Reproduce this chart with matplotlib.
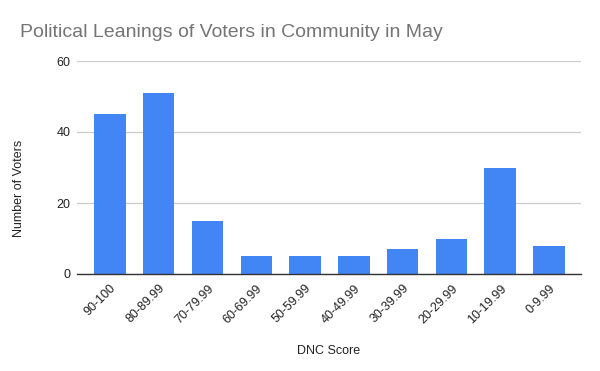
import matplotlib
matplotlib.use("Agg")
import matplotlib.pyplot as plt

plt.rcParams['font.family'] = ['Liberation Sans', 'DejaVu Sans']

categories = ['90-100', '80-89.99', '70-79.99', '60-69.99', '50-59.99',
              '40-49.99', '30-39.99', '20-29.99', '10-19.99', '0-9.99']
voters = [45, 51, 15, 5, 5, 5, 7, 10, 30, 8]
yticks = [0, 20, 40, 60]

fig = plt.figure(figsize=(6, 3.71), dpi=100)
# axes box in pixels: x 77..581, y 61..274
ax = fig.add_axes([77 / 600, 1 - 274 / 371, 504 / 600, 213 / 371])

ax.bar(range(len(categories)), voters, width=0.645, color='#4285f4', zorder=3)

ax.set_xlim(-0.676, len(categories) - 1 + 0.656)
ax.set_ylim(0, 60)
ax.set_yticks(yticks)
ax.set_xticks(range(len(categories)))
ax.set_xticklabels(categories, rotation=45, ha='right', rotation_mode='anchor')
ax.tick_params(axis='both', length=0, labelsize=9, colors='#222222')
ax.tick_params(axis='x', pad=6)
ax.tick_params(axis='y', pad=4.5)
ax.grid(axis='y', color='#cccccc', linewidth=0.9, zorder=0)

for s in ['top', 'right', 'left']:
    ax.spines[s].set_visible(False)
ax.spines['bottom'].set_color('#333333')
ax.spines['bottom'].set_linewidth(1)
ax.spines['bottom'].set_zorder(4)

ax.set_xlabel('DNC Score', fontsize=9, color='#222222')
ax.xaxis.set_label_coords(0.5, -(345 - 274) / 213)
ax.set_ylabel('Number of Voters', fontsize=9, color='#222222')
ax.yaxis.set_label_coords(-(77 - 25) / 504, (274 - 188) / 213)

fig.text(20 / 600, 1 - 37 / 371, 'Political Leanings of Voters in Community in May',
         fontsize=14, color='#757575', ha='left', va='baseline')

fig.savefig('out.png', dpi=100)
